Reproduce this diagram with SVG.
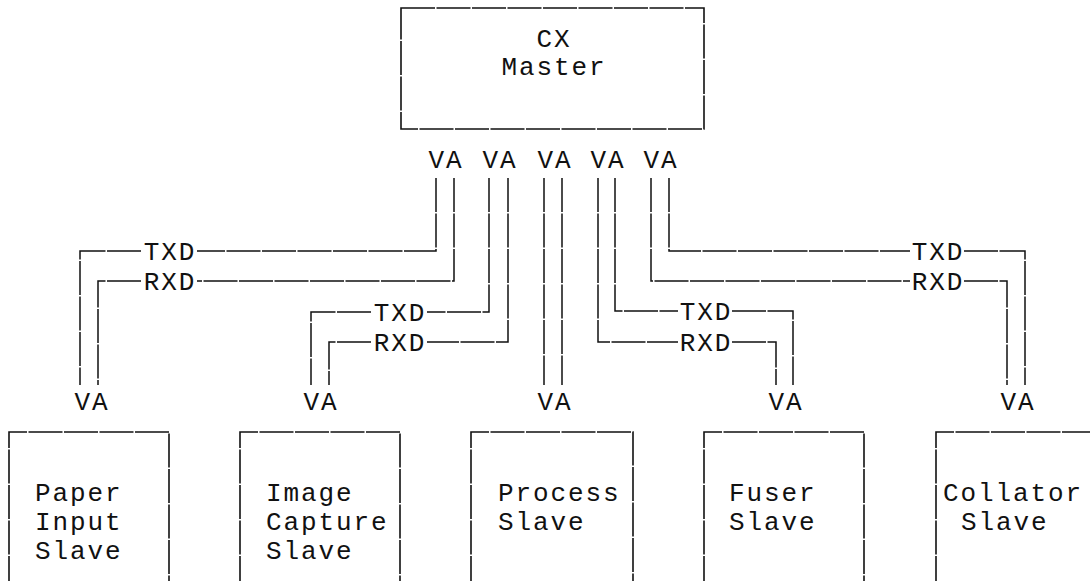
<svg xmlns="http://www.w3.org/2000/svg" width="1090" height="581" viewBox="0 0 1090 581">
<style>
  .bg { fill: #ffffff; }
  .box { fill: none; stroke: #111; stroke-width: 1.6; stroke-dasharray: 34 1.5; }
  .wire { fill: none; stroke: #111; stroke-width: 1.5; stroke-dasharray: 34 1.5; }
  text { font-family: "Liberation Mono", "DejaVu Sans Mono", monospace; font-size: 26px; letter-spacing: 1.9px; fill: #111; }
  .mid { text-anchor: middle; }
</style>
<rect class="bg" x="0" y="0" width="1090" height="581"/>

<g id="master">
  <rect class="box" x="401" y="8" width="303" height="121"/>
  <text class="mid" x="554" y="47">CX</text>
  <text class="mid" x="554" y="75">Master</text>
  <text class="mid" x="446" y="168">VA</text>
  <text class="mid" x="500" y="168">VA</text>
  <text class="mid" x="555" y="168">VA</text>
  <text class="mid" x="608" y="168">VA</text>
  <text class="mid" x="661" y="168">VA</text>
</g>

<g id="connectors">
  <!-- Paper Input -->
  <polyline class="wire" points="436,178 436,251 197,251"/>
  <polyline class="wire" points="141,251 80,251 80,385"/>
  <polyline class="wire" points="454,178 454,281 197,281"/>
  <polyline class="wire" points="141,281 98,281 98,385"/>
  <text class="mid" x="170" y="260">TXD</text>
  <text class="mid" x="170" y="290">RXD</text>
  <!-- Image Capture -->
  <polyline class="wire" points="489,178 489,312 427,312"/>
  <polyline class="wire" points="371,312 311,312 311,385"/>
  <polyline class="wire" points="508,178 508,342 427,342"/>
  <polyline class="wire" points="371,342 329,342 329,385"/>
  <text class="mid" x="400" y="321">TXD</text>
  <text class="mid" x="400" y="351">RXD</text>
  <!-- Process -->
  <line class="wire" x1="544" y1="178" x2="544" y2="385"/>
  <line class="wire" x1="562" y1="178" x2="562" y2="385"/>
  <!-- Fuser -->
  <polyline class="wire" points="615,178 615,311 678,311"/>
  <polyline class="wire" points="732,311 793,311 793,385"/>
  <polyline class="wire" points="598,178 598,342 678,342"/>
  <polyline class="wire" points="732,342 776,342 776,385"/>
  <text class="mid" x="706" y="320">TXD</text>
  <text class="mid" x="706" y="351">RXD</text>
  <!-- Collator -->
  <polyline class="wire" points="669,178 669,251 910,251"/>
  <polyline class="wire" points="964,251 1025,251 1025,385"/>
  <polyline class="wire" points="651,178 651,281 910,281"/>
  <polyline class="wire" points="964,281 1007,281 1007,385"/>
  <text class="mid" x="938" y="260">TXD</text>
  <text class="mid" x="938" y="290">RXD</text>
</g>

<g id="paper-input-slave">
  <text class="mid" x="92" y="410">VA</text>
  <path class="box" d="M9,590 V432 H169 V590"/>
  <text x="35" y="501">Paper</text>
  <text x="35" y="530">Input</text>
  <text x="35" y="559">Slave</text>
</g>

<g id="image-capture-slave">
  <text class="mid" x="321" y="410">VA</text>
  <path class="box" d="M240,590 V432 H400 V590"/>
  <text x="266" y="501">Image</text>
  <text x="266" y="530">Capture</text>
  <text x="266" y="559">Slave</text>
</g>

<g id="process-slave">
  <text class="mid" x="555" y="410">VA</text>
  <path class="box" d="M471,590 V432 H633 V590"/>
  <text x="498" y="501">Process</text>
  <text x="498" y="530">Slave</text>
</g>

<g id="fuser-slave">
  <text class="mid" x="786" y="410">VA</text>
  <path class="box" d="M704,590 V432 H864 V590"/>
  <text x="729" y="501">Fuser</text>
  <text x="729" y="530">Slave</text>
</g>

<g id="collator-slave">
  <text class="mid" x="1018" y="410">VA</text>
  <path class="box" d="M936,590 V432 H1100"/>
  <text x="943" y="501">Collator</text>
  <text x="961" y="530">Slave</text>
</g>
</svg>
